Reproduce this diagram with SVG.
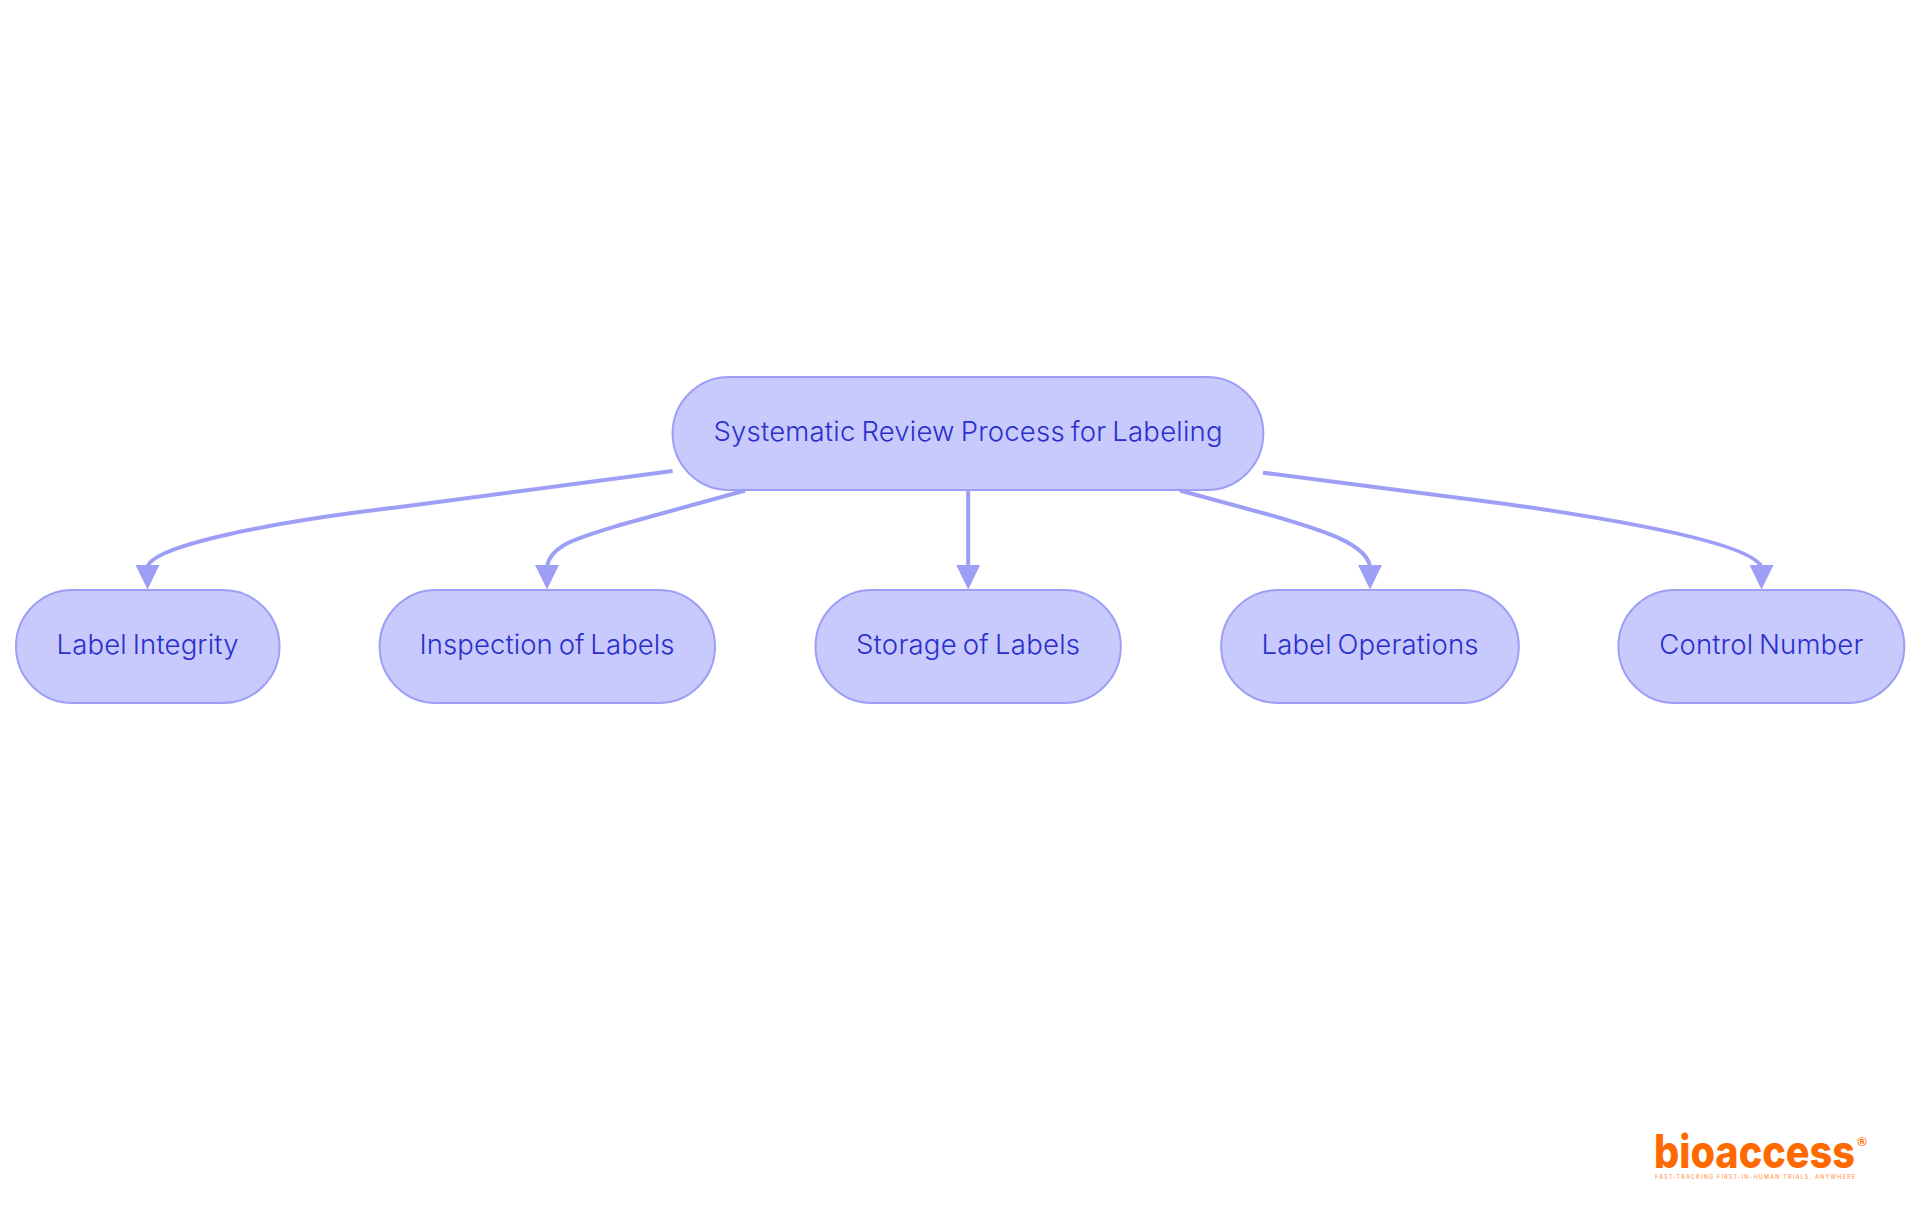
<svg xmlns="http://www.w3.org/2000/svg" width="1920" height="1215" viewBox="0 0 1920 1215">
<style>
.n{fill:#c8c9fd;stroke:#9c9ff5;stroke-width:2}
.t{font-family:"Inter","Noto Sans",sans-serif;font-size:27.5px;font-weight:300;word-spacing:-2px;fill:#2a2fcb;text-anchor:middle}
.e{fill:none;stroke:#9c9ff5;stroke-width:4}
.a{fill:#9c9ff5}
</style>
<rect width="1920" height="1215" fill="#ffffff"/>
<g id="root"><rect class="n" x="672.6" y="377" width="590.7" height="113" rx="56.5"/><text class="t" x="968" y="441" textLength="509">Systematic Review Process for Labeling</text></g>
<g id="label-integrity"><rect class="n" x="16" y="590" width="263.5" height="113" rx="56.5"/><text class="t" x="147.5" y="654" textLength="182">Label Integrity</text></g>
<g id="inspection"><rect class="n" x="379.6" y="590" width="335.4" height="113" rx="56.5"/><text class="t" x="547" y="654" textLength="255">Inspection of Labels</text></g>
<g id="storage"><rect class="n" x="815.5" y="590" width="305.3" height="113" rx="56.5"/><text class="t" x="968" y="654" textLength="224">Storage of Labels</text></g>
<g id="operations"><rect class="n" x="1221.2" y="590" width="297.6" height="113" rx="56.5"/><text class="t" x="1370" y="654" textLength="217">Label Operations</text></g>
<g id="control"><rect class="n" x="1618.4" y="590" width="285.9" height="113" rx="56.5"/><text class="t" x="1761.3" y="654" textLength="204">Control Number</text></g>
<g id="connectors">
<path class="e" d="M672.6,471L400,507C270,522 152,546 147.5,567"/>
<path class="e" d="M745,490.5L620,525C580,537 550,545 547,567"/>
<path class="e" d="M968.2,490V567"/>
<path class="e" d="M1180,490.5L1270,515C1325,531 1367,544 1370,567"/>
<path class="e" d="M1263,472.7L1506,504C1640,523 1752,545 1761.5,567"/>
<path class="a" d="M135.5,565H159.5L147.5,589.5Z"/>
<path class="a" d="M535,565H559L547,589.5Z"/>
<path class="a" d="M956.2,565H980.2L968.2,589.5Z"/>
<path class="a" d="M1358,565H1382L1370,589.5Z"/>
<path class="a" d="M1749.5,565H1773.5L1761.5,589.5Z"/>
</g>
<g id="logo">
<text x="1654" y="1168" font-family="Inter,Lato,sans-serif" font-weight="800" font-size="46" fill="#ff6a00" textLength="201" lengthAdjust="spacingAndGlyphs">bioaccess</text>
<text x="1862" y="1146" font-family="Liberation Sans,sans-serif" font-size="13" font-weight="700" fill="#ff6a00" text-anchor="middle">®</text>
<text x="1655" y="1179" font-family="Inter,sans-serif" font-size="5.5" font-weight="500" fill="#ff9a55" textLength="200" lengthAdjust="spacing">FAST-TRACKING FIRST-IN-HUMAN TRIALS, ANYWHERE</text>
</g>
</svg>
